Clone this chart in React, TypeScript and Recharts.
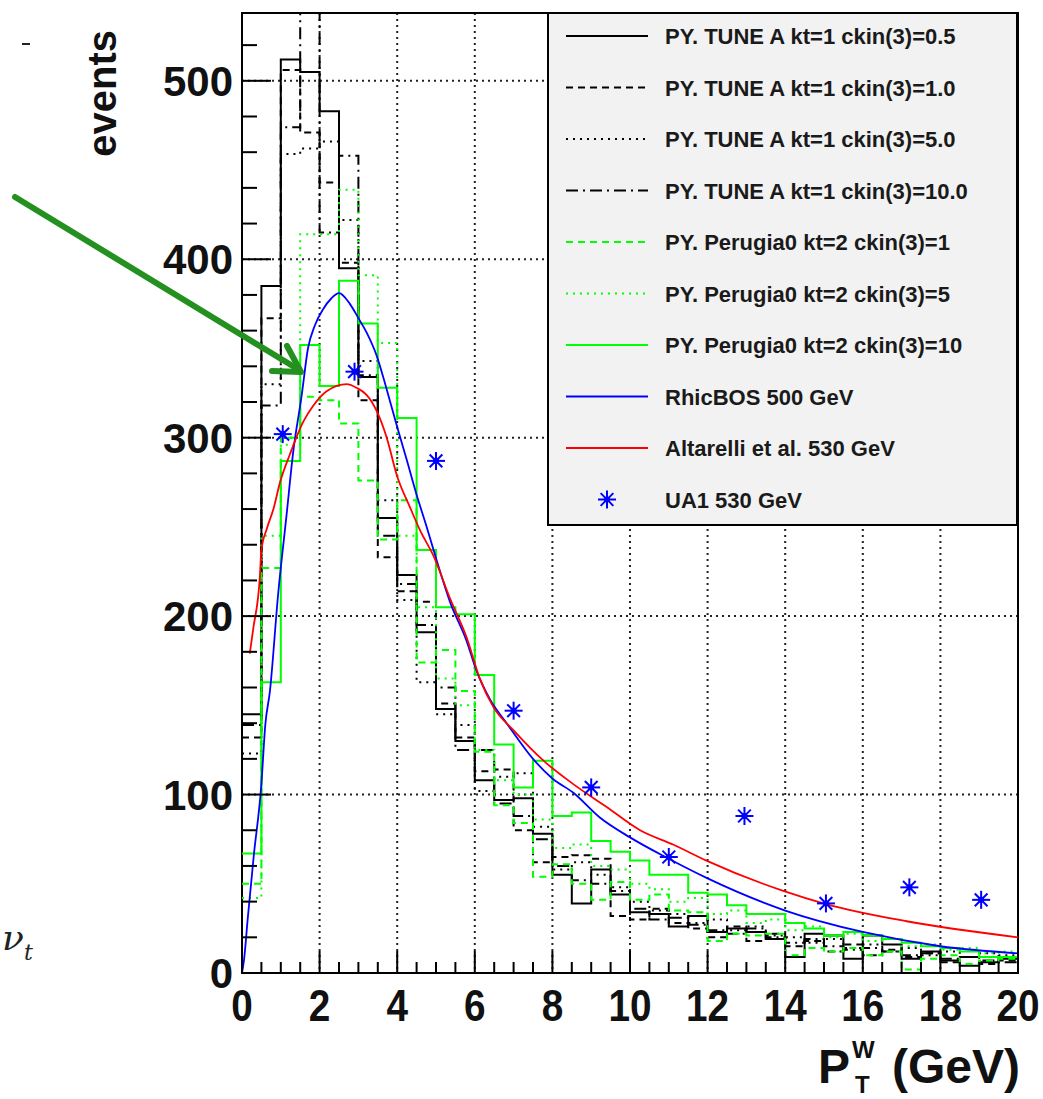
import React from "react";
import {
  ComposedChart,
  Line,
  Scatter,
  XAxis,
  YAxis,
  CartesianGrid,
  Legend,
  ReferenceArea,
} from "recharts";

// histograms are 0.5 GeV bins from 0 to 20 GeV (40 bins)
const BIN_WIDTH = 0.5;
const binLow = Array.from({ length: 40 }, (_, i) => i * BIN_WIDTH);

// PYTHIA Tune A, kt=1
const tuneA_05 = [145, 385, 512, 505, 483, 395, 334, 255, 223, 191, 148, 130, 108, 97, 98, 78, 55, 39, 58, 44,
  34, 33, 26, 32, 23, 25, 23, 19, 9, 22, 21, 8, 21, 16, 8, 12, 7, 4, 6, 8];
const tuneA_10 = [132, 367, 506, 471, 443, 398, 321, 233, 214, 208, 151, 132, 113, 114, 80, 62, 65, 66, 64, 32,
  30, 36, 28, 25, 20, 26, 18, 22, 15, 18, 12, 16, 10, 13, 9, 11, 6, 9, 5, 7];
const tuneA_50 = [123, 330, 459, 462, 466, 422, 343, 265, 209, 163, 145, 139, 102, 110, 112, 82, 58, 62, 55, 48,
  40, 35, 33, 28, 30, 24, 26, 21, 20, 17, 19, 14, 16, 12, 14, 10, 12, 9, 11, 10];
const tuneA_100 = [139, 318, 474, 560, 415, 458, 335, 245, 218, 195, 160, 125, 125, 95, 88, 75, 60, 52, 50, 46,
  36, 30, 31, 27, 24, 22, 25, 20, 17, 19, 15, 13, 14, 12, 10, 11, 8, 9, 7, 6];

// PYTHIA Perugia0, kt=2
const perugia_1 = [50, 227, 300, 323, 321, 308, 276, 243, 265, 174, 181, 158, 124, 94, 84, 54, 61, 50, 41, 51,
  41, 44, 35, 34, 18, 22, 21, 22, 10, 14, 12, 14, 10, 12, 2, 8, 10, 5, 7, 8];
const perugia_5 = [42, 245, 296, 414, 414, 439, 391, 353, 245, 205, 165, 150, 125, 108, 100, 86, 70, 72, 60, 58,
  50, 47, 40, 42, 33, 35, 28, 30, 24, 26, 20, 22, 18, 19, 15, 16, 13, 14, 11, 12];
const perugia_10 = [67, 163, 287, 352, 329, 388, 364, 328, 311, 237, 205, 201, 167, 128, 104, 119, 88, 90, 74, 68,
  63, 55, 55, 45, 44, 38, 33, 33, 28, 25, 21, 23, 21, 19, 17, 15, 14, 12, 9, 9];

// RhicBOS 500 GeV (smooth curve)
const rhicbos = [
  { x: 0, y: 0 }, { x: 0.05, y: 7 }, { x: 0.15, y: 31 }, { x: 0.3, y: 65 }, { x: 0.5, y: 106 },
  { x: 0.6, y: 139 }, { x: 0.72, y: 158 }, { x: 0.93, y: 212 }, { x: 1.15, y: 257 }, { x: 1.32, y: 292 },
  { x: 1.54, y: 324 }, { x: 1.7, y: 350 }, { x: 1.88, y: 363 }, { x: 2.09, y: 372 }, { x: 2.3, y: 378 },
  { x: 2.5, y: 381 }, { x: 2.78, y: 375 }, { x: 3.0, y: 367 }, { x: 3.21, y: 359 }, { x: 3.47, y: 346 },
  { x: 3.73, y: 327 }, { x: 4.0, y: 306 }, { x: 4.24, y: 288 }, { x: 4.5, y: 268 }, { x: 4.76, y: 250 },
  { x: 5.02, y: 231 }, { x: 5.36, y: 208 }, { x: 5.79, y: 186 }, { x: 6.05, y: 169 }, { x: 6.4, y: 153 },
  { x: 6.82, y: 140 }, { x: 7.5, y: 120 }, { x: 8.0, y: 109 }, { x: 8.54, y: 101 }, { x: 9.23, y: 87 },
  { x: 10, y: 76 }, { x: 11, y: 64 }, { x: 12, y: 53 }, { x: 14, y: 35 }, { x: 16, y: 23 },
  { x: 18, y: 15 }, { x: 20, y: 11 },
];

// Altarelli et al. 530 GeV (smooth curve)
const altarelli = [
  { x: 0.2, y: 179 }, { x: 0.29, y: 193 }, { x: 0.46, y: 222 }, { x: 0.5, y: 237 }, { x: 0.64, y: 249 },
  { x: 0.81, y: 260 }, { x: 0.98, y: 275 }, { x: 1.24, y: 291 }, { x: 1.58, y: 309 }, { x: 1.84, y: 318 },
  { x: 2.18, y: 326 }, { x: 2.7, y: 330 }, { x: 2.95, y: 328 }, { x: 3.21, y: 324 }, { x: 3.47, y: 315 },
  { x: 3.73, y: 300 }, { x: 3.99, y: 279 }, { x: 4.33, y: 261 }, { x: 4.59, y: 248 }, { x: 4.93, y: 234 },
  { x: 5.36, y: 210 }, { x: 5.79, y: 188 }, { x: 6.13, y: 165 }, { x: 6.48, y: 149 }, { x: 7.0, y: 136 },
  { x: 7.77, y: 119 }, { x: 8.53, y: 106 }, { x: 9.4, y: 93 }, { x: 10.26, y: 80 }, { x: 11.11, y: 72 },
  { x: 11.97, y: 63 }, { x: 13.95, y: 46 }, { x: 15.07, y: 38.5 }, { x: 17.13, y: 29 }, { x: 20, y: 20 },
];

// UA1 530 GeV data points
const ua1 = [
  { x: 1.05, y: 302 }, { x: 2.9, y: 337 }, { x: 5.0, y: 287 }, { x: 7.0, y: 147 }, { x: 9.0, y: 104 },
  { x: 11.0, y: 65 }, { x: 12.95, y: 88 }, { x: 15.05, y: 39 }, { x: 17.2, y: 48 }, { x: 19.05, y: 41 },
];

const xTickLabels = [0, 2, 4, 6, 8, 10, 12, 14, 16, 18, 20];
const yTickLabels = [0, 100, 200, 300, 400, 500];
const xTicks = Array.from({ length: 41 }, (_, i) => i * 0.5);
const yTicks = Array.from({ length: 27 }, (_, i) => i * 20);

const FONT = "'Liberation Sans', Arial, Helvetica, sans-serif";
const GREEN = "#00ff00";

const HISTS = [
  { key: "tuneA_05", values: tuneA_05, name: "PY. TUNE A kt=1 ckin(3)=0.5", color: "#000", dash: undefined },
  { key: "tuneA_10", values: tuneA_10, name: "PY. TUNE A kt=1 ckin(3)=1.0", color: "#000", dash: "7 5" },
  { key: "tuneA_50", values: tuneA_50, name: "PY. TUNE A kt=1 ckin(3)=5.0", color: "#000", dash: "2 5" },
  { key: "tuneA_100", values: tuneA_100, name: "PY. TUNE A kt=1 ckin(3)=10.0", color: "#000", dash: "12 5 2 5" },
  { key: "perugia_1", values: perugia_1, name: "PY. Perugia0 kt=2 ckin(3)=1", color: GREEN, dash: "7 5" },
  { key: "perugia_5", values: perugia_5, name: "PY. Perugia0 kt=2 ckin(3)=5", color: GREEN, dash: "2 5" },
  { key: "perugia_10", values: perugia_10, name: "PY. Perugia0 kt=2 ckin(3)=10", color: GREEN, dash: undefined },
];

// step rows at bin edges; the last edge repeats the last bin
const histRows = [...binLow, 20].map((x, i) => {
  const row: Record<string, number> = { x };
  HISTS.forEach((h) => {
    row[h.key] = h.values[Math.min(i, h.values.length - 1)];
  });
  return row;
});

const LEGEND_ITEMS = [
  ...HISTS.map((h) => ({ name: h.name, color: h.color, dash: h.dash, star: false })),
  { name: "RhicBOS 500 GeV", color: "#0000ff", dash: undefined, star: false },
  { name: "Altarelli et al. 530 GeV", color: "#ff0000", dash: undefined, star: false },
  { name: "UA1 530 GeV", color: "#0000ff", dash: undefined, star: true },
];

const StarMark = ({ cx, cy, r = 9 }: any) => {
  const d = r * 0.707;
  return (
    <g stroke="#0000ff" strokeWidth={2}>
      <line x1={cx - r} y1={cy} x2={cx + r} y2={cy} />
      <line x1={cx} y1={cy - r} x2={cx} y2={cy + r} />
      <line x1={cx - d} y1={cy - d} x2={cx + d} y2={cy + d} />
      <line x1={cx - d} y1={cy + d} x2={cx + d} y2={cy - d} />
      <circle cx={cx} cy={cy} r={3} fill="#0000ff" stroke="none" />
    </g>
  );
};

// ROOT style ticks point inwards
const XTick = ({ x, y, payload }: any) => {
  const major = xTickLabels.includes(payload.value);
  return (
    <g>
      <line x1={x} x2={x} y1={y} y2={y - (major ? 22 : 11)} stroke="#000" strokeWidth={2} />
      {major && (
        <text
          transform={`translate(${x},${y + 48}) scale(0.88,1)`}
          textAnchor="middle"
          fontFamily={FONT}
          fontWeight="bold"
          fontSize={44}
          fill="#111"
        >
          {payload.value}
        </text>
      )}
    </g>
  );
};

const YTick = ({ x, y, payload }: any) => {
  const major = yTickLabels.includes(payload.value);
  return (
    <g>
      <line x1={x} x2={x + (major ? 29 : 15)} y1={y} y2={y} stroke="#000" strokeWidth={2} />
      {major && (
        <text x={x - 9} y={y + 15} textAnchor="end" fontFamily={FONT} fontWeight="bold" fontSize={42} fill="#111">
          {payload.value}
        </text>
      )}
    </g>
  );
};

const YTitle = ({ viewBox }: any) => (
  <text
    transform={`translate(${viewBox.x + 116},${viewBox.y + 17}) rotate(-90)`}
    textAnchor="end"
    fontFamily={FONT}
    fontWeight="bold"
    fontSize={40}
    fill="#111"
  >
    events
  </text>
);

const XTitle = ({ viewBox }: any) => {
  const right = viewBox.x + viewBox.width + 2;
  const base = viewBox.y + 110;
  return (
    <g fontFamily={FONT} fontWeight="bold" fill="#111">
      <text x={right} y={base} textAnchor="end" fontSize={48}>(GeV)</text>
      <text x={right - 202} y={base} fontSize={48}>P</text>
      <text x={right - 168} y={base - 25} fontSize={24}>W</text>
      <text x={right - 165} y={base + 10} fontSize={24}>T</text>
    </g>
  );
};

const LegendBox = () => (
  <svg width={473} height={516} style={{ display: "block" }}>
    <rect x={1} y={1} width={469} height={512} fill="#f2f2f2" stroke="#000" strokeWidth={2} />
    {LEGEND_ITEMS.map((it, i) => {
      const cy = 24 + i * 51.5;
      return (
        <g key={it.name}>
          {it.star ? (
            <StarMark cx={60} cy={cy} r={9} />
          ) : (
            <line x1={19} x2={101} y1={cy} y2={cy} stroke={it.color} strokeWidth={2} strokeDasharray={it.dash} />
          )}
          <text x={118} y={cy + 8} fontFamily={FONT} fontWeight="bold" fontSize={22} fill="#1a1a1a">
            {it.name}
          </text>
        </g>
      );
    })}
  </svg>
);

export default function App() {
  return (
    <div style={{ position: "absolute", left: 0, top: 0, width: 1043, height: 1099, background: "#fff", fontFamily: FONT }}>
      <ComposedChart
        width={1043}
        height={1099}
        data={histRows}
        margin={{ top: 13, right: 25, bottom: 0, left: 0 }}
      >
        <CartesianGrid
          horizontal
          vertical
          horizontalValues={[100, 200, 300, 400, 500]}
          verticalValues={[2, 4, 6, 8, 10, 12, 14, 16, 18]}
          stroke="#222"
          strokeWidth={2}
          strokeDasharray="2 4"
        />
        <XAxis
          type="number"
          dataKey="x"
          domain={[0, 20]}
          ticks={xTicks}
          interval={0}
          tick={<XTick />}
          tickSize={0}
          tickMargin={0}
          tickLine={false}
          axisLine={false}
          height={126}
          allowDataOverflow
          label={<XTitle />}
        />
        <YAxis
          type="number"
          domain={[0, 538]}
          ticks={yTicks}
          interval={0}
          tick={<YTick />}
          tickSize={0}
          tickMargin={0}
          tickLine={false}
          axisLine={false}
          width={242}
          allowDataOverflow
          label={<YTitle />}
        />
        {HISTS.map((h) => (
          <Line
            key={h.key}
            type="stepAfter"
            dataKey={h.key}
            name={h.name}
            stroke={h.color}
            strokeWidth={2}
            strokeDasharray={h.dash}
            dot={false}
            activeDot={false}
            isAnimationActive={false}
          />
        ))}
        <Line
          data={rhicbos}
          type="monotone"
          dataKey="y"
          name="RhicBOS 500 GeV"
          stroke="#0000ff"
          strokeWidth={1.8}
          dot={false}
          activeDot={false}
          isAnimationActive={false}
        />
        <Line
          data={altarelli}
          type="monotone"
          dataKey="y"
          name="Altarelli et al. 530 GeV"
          stroke="#ff0000"
          strokeWidth={1.8}
          dot={false}
          activeDot={false}
          isAnimationActive={false}
        />
        <Scatter
          data={ua1}
          dataKey="y"
          name="UA1 530 GeV"
          shape={(p: any) => <StarMark cx={p.cx} cy={p.cy} r={9} />}
          isAnimationActive={false}
        />
        <ReferenceArea x1={0} x2={20} y1={0} y2={538} fill="none" stroke="#000" strokeWidth={2} />
        <Legend
          layout="vertical"
          align="center"
          verticalAlign="middle"
          width={473}
          height={516}
          wrapperStyle={{ left: 547, top: 12, width: 473, height: 516 }}
          content={() => <LegendBox />}
        />
      </ComposedChart>
      {/* slide annotations around the plot */}
      <svg width={1043} height={1099} style={{ position: "absolute", left: 0, top: 0, pointerEvents: "none" }}>
        <line x1={22} y1={44} x2={30} y2={44} stroke="#222" strokeWidth={2} />
        <line x1={15} y1={197} x2={296} y2={368} stroke="#23901f" strokeWidth={6} strokeLinecap="round" />
        <polyline
          points="272,371 301,372 287,346"
          fill="none"
          stroke="#23901f"
          strokeWidth={6}
          strokeLinecap="round"
          strokeLinejoin="round"
        />
        <text x={2} y={950} fontFamily="'DejaVu Serif', serif" fontStyle="italic" fontSize={36} fill="#222">ν</text>
        <text x={24} y={960} fontFamily="'DejaVu Serif', serif" fontStyle="italic" fontSize={22} fill="#222">t</text>
      </svg>
    </div>
  );
}
